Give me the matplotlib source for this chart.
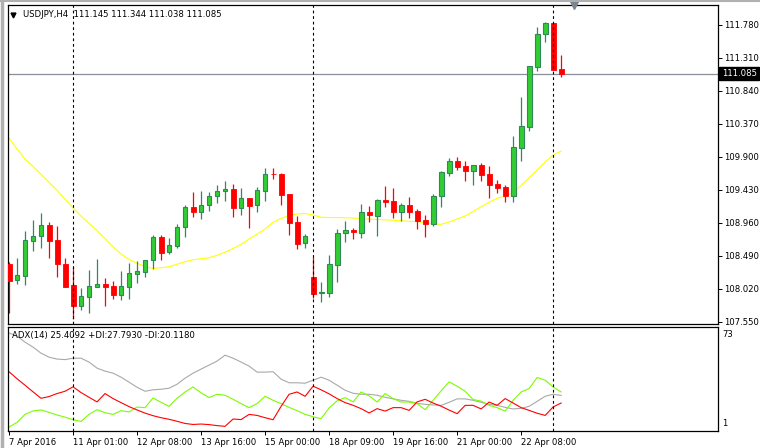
import matplotlib
matplotlib.use("Agg")
import matplotlib.pyplot as plt
from matplotlib.lines import Line2D
import numpy as np

# USDJPY H4 candles
opens = [108.372, 108.140, 108.205, 108.704, 108.775, 108.923, 108.714, 108.372, 108.073, 107.778,
         107.906, 108.049, 108.087, 108.063, 107.935, 108.049, 108.234, 108.254, 108.425, 108.756,
         108.538, 108.632, 108.895, 109.184, 109.117, 109.208, 109.336, 109.407, 109.436, 109.165,
         109.308, 109.208, 109.407, 109.658, 109.654, 109.369, 108.970, 108.667, 108.187, 107.955,
         107.963, 108.362, 108.809, 108.856, 108.818, 109.112, 109.060, 109.283, 109.269, 109.117,
         109.212, 109.127, 108.999, 108.946, 109.336, 109.672, 109.835, 109.768, 109.701, 109.778,
         109.654, 109.511, 109.469, 109.345, 110.028, 110.327, 111.182, 111.643, 111.804, 111.145]
highs = [108.400, 108.457, 108.842, 108.999, 109.098, 108.970, 108.913, 108.457, 108.329, 108.030,
         108.286, 108.443, 108.172, 108.130, 108.272, 108.382, 108.415, 108.429, 108.785, 108.785,
         108.742, 108.941, 109.212, 109.397, 109.416, 109.397, 109.497, 109.554, 109.511, 109.454,
         109.308, 109.469, 109.739, 109.739, 109.672, 109.369, 109.051, 108.799, 108.467, 108.111,
         108.500, 108.870, 108.984, 108.880, 109.226, 109.198, 109.298, 109.483, 109.454, 109.241,
         109.326, 109.155, 109.070, 109.369, 109.696, 109.877, 109.896, 109.839, 109.786, 109.806,
         109.768, 109.568, 109.497, 110.195, 110.750, 111.188, 111.747, 111.819, 111.804, 111.344]
lows = [107.670, 108.087, 108.073, 108.561, 108.604, 108.462, 108.191, 108.049, 107.588, 107.717,
        107.678, 108.049, 107.778, 107.873, 107.859, 107.873, 108.101, 108.191, 108.305, 108.433,
        108.510, 108.595, 108.752, 109.046, 109.017, 109.131, 109.245, 109.273, 109.046, 109.074,
        108.889, 109.108, 109.273, 109.578, 109.217, 108.785, 108.590, 108.604, 107.892, 107.835,
        107.906, 108.120, 108.689, 108.728, 108.746, 108.974, 108.771, 109.188, 109.027, 108.989,
        109.027, 108.875, 108.761, 108.917, 109.188, 109.629, 109.715, 109.558, 109.501, 109.558,
        109.316, 109.387, 109.259, 109.255, 109.843, 110.270, 111.125, 111.538, 111.139, 111.038]
closes = [108.134, 108.215, 108.714, 108.771, 108.923, 108.704, 108.376, 108.049, 107.778, 107.916,
          108.059, 108.087, 108.049, 107.935, 108.059, 108.239, 108.272, 108.429, 108.756, 108.533,
          108.638, 108.899, 109.179, 109.117, 109.212, 109.336, 109.407, 109.436, 109.174, 109.308,
          109.202, 109.422, 109.654, 109.649, 109.359, 108.960, 108.661, 108.771, 107.949, 107.969,
          108.368, 108.809, 108.852, 108.823, 109.108, 109.074, 109.283, 109.259, 109.117, 109.212,
          109.117, 108.989, 108.946, 109.340, 109.682, 109.835, 109.758, 109.701, 109.778, 109.639,
          109.501, 109.459, 109.345, 110.034, 110.333, 111.188, 111.648, 111.804, 111.139, 111.085]

# yellow moving average
ma = [110.166, 110.010, 109.867, 109.763, 109.649, 109.535, 109.422, 109.296, 109.169, 109.055,
      108.949, 108.848, 108.735, 108.618, 108.514, 108.436, 108.382, 108.336, 108.308, 108.319,
      108.332, 108.368, 108.405, 108.433, 108.446, 108.460, 108.496, 108.540, 108.593, 108.650,
      108.728, 108.795, 108.870, 108.966, 109.020, 109.063, 109.084, 109.091, 109.070, 109.037,
      109.034, 109.033, 109.031, 109.027, 109.019, 109.011, 109.006, 109.001, 108.996, 108.987,
      108.979, 108.976, 108.961, 108.941, 108.937, 108.970, 109.013, 109.055, 109.120, 109.187,
      109.251, 109.308, 109.336, 109.393, 109.493, 109.602, 109.711, 109.825, 109.924, 109.981]

# ADX(14) panel
adx = [68.8, 66.7, 62.5, 59.0, 54.8, 52.0, 50.7, 50.3, 51.3, 51.3,
       48.6, 44.4, 42.3, 40.9, 38.1, 34.6, 31.1, 28.3, 29.3, 29.7,
       30.4, 33.2, 37.4, 40.9, 43.7, 46.5, 49.3, 53.4, 51.3, 48.6,
       45.8, 41.6, 41.6, 41.9, 36.7, 34.2, 34.2, 33.9, 36.0, 38.1,
       36.0, 32.5, 29.0, 26.9, 26.2, 26.2, 25.5, 24.1, 23.0, 22.0,
       21.3, 19.9, 19.2, 18.8, 18.5, 20.6, 23.0, 23.0, 22.0, 20.6,
       19.2, 18.5, 17.1, 16.0, 16.4, 17.8, 21.3, 24.8, 26.2, 25.41]
plus_di = [3.4, 6.6, 12.2, 14.6, 15.3, 13.6, 11.8, 10.3, 8.5, 7.3,
           12.2, 15.5, 13.4, 12.2, 14.8, 13.9, 17.3, 16.9, 23.6, 20.6,
           17.8, 23.4, 27.8, 31.3, 27.2, 23.9, 26.2, 25.5, 22.7, 19.7,
           16.9, 19.7, 24.8, 22.0, 19.7, 17.1, 14.8, 12.2, 10.6, 9.2,
           16.7, 21.6, 23.9, 20.9, 27.8, 25.1, 20.8, 26.7, 23.2, 20.8,
           20.8, 19.7, 15.5, 22.0, 28.6, 34.8, 31.8, 28.3, 22.5, 21.5,
           18.5, 16.9, 14.5, 22.0, 27.8, 30.2, 37.9, 36.0, 31.3, 27.79]
minus_di = [41.9, 37.0, 32.5, 27.9, 23.4, 24.6, 26.7, 28.3, 31.4, 27.4,
            24.1, 20.9, 26.7, 23.2, 20.4, 17.6, 15.3, 13.1, 11.3, 9.9,
            8.8, 7.4, 5.9, 5.2, 5.5, 5.1, 4.4, 3.9, 9.0, 8.6,
            12.2, 11.5, 9.9, 8.5, 17.8, 26.2, 27.8, 24.8, 31.8, 29.3,
            26.5, 23.2, 20.4, 18.5, 16.2, 13.2, 16.2, 14.5, 16.9, 16.9,
            15.0, 20.9, 22.7, 20.1, 17.9, 15.2, 12.7, 18.5, 18.5, 16.0,
            20.8, 18.5, 23.2, 20.1, 16.9, 15.0, 13.0, 11.5, 17.4, 20.12]

price_ticks = [111.780, 111.310, 110.840, 110.370, 109.900, 109.430, 108.960, 108.490, 108.020, 107.550]
time_labels = ["7 Apr 2016", "11 Apr 01:00", "12 Apr 08:00", "13 Apr 16:00", "15 Apr 00:00",
               "18 Apr 09:00", "19 Apr 16:00", "21 Apr 00:00", "22 Apr 08:00"]
time_label_idx = [0, 8, 16, 24, 32, 40, 48, 56, 64]
separators = [8, 38, 68]

plt.rcParams['font.family'] = ['DejaVu Sans']
FS = 6.1

W, H = 760, 448
fig = plt.figure(figsize=(W / 100, H / 100), dpi=100)
fig.patch.set_facecolor("white")

def px_rect(x0, y0, x1, y1):
    return [x0 / W, 1 - y1 / H, (x1 - x0) / W, (y1 - y0) / H]

ax = fig.add_axes(px_rect(7.5, 5, 718, 324))
ax2 = fig.add_axes(px_rect(7.5, 327, 718, 430.5))

x = np.arange(len(opens))
xlim = (-0.19, 88.6)

# ---- candles ----
bull_fill, bull_edge, bear = "#32CD32", "#2E8B57", "#FF0000"
o = np.array(opens); c = np.array(closes); h = np.array(highs); l = np.array(lows)
up = c >= o
ax.vlines(x[up], l[up], h[up], color=bull_edge, lw=0.9, zorder=2)
ax.vlines(x[~up], l[~up], h[~up], color=bear, lw=0.9, zorder=2)
body = np.maximum(np.abs(c - o), 0.004)
bottom = np.minimum(o, c)
ax.bar(x[up], body[up], bottom=bottom[up], width=0.6, color=bull_fill,
       edgecolor=bull_edge, linewidth=0.8, zorder=3)
ax.bar(x[~up], body[~up], bottom=bottom[~up], width=0.62, color=bear,
       edgecolor=bear, linewidth=0.6, zorder=3)

ax.plot(x, ma, color="#FFFF00", lw=0.8, zorder=1)

last = closes[-1]
ax.axhline(last, color="#8A8F99", lw=0.9, zorder=0.5)

ax.set_xlim(*xlim)
ax.set_ylim(107.517, 112.061)
ax.set_xticks([])
ax.yaxis.tick_right()
ax.set_yticks(price_ticks)
ax.set_yticklabels([f"{v:.3f}" for v in price_ticks], fontsize=FS)
ax.tick_params(axis="y", direction="out", length=3, width=0.7, pad=1.5, colors="black")

ax.annotate(f"{last:.3f}", xy=(1, last), xycoords=("axes fraction", "data"),
            xytext=(2.6, 0), textcoords="offset points", ha="left", va="center",
            fontsize=FS, color="white",
            bbox=dict(boxstyle="square,pad=0.25", fc="black", ec="black"))

ax.annotate(f"USDJPY,H4  {opens[-1]:.3f} {highs[-1]:.3f} {lows[-1]:.3f} {closes[-1]:.3f}",
            xy=(0, 1), xycoords="axes fraction", xytext=(11.3, -6.6),
            textcoords="offset points", ha="left", va="center", fontsize=FS, color="black")
ax.plot([0.0083], [0.97], marker="v", color="black", markersize=3.5,
        transform=ax.transAxes, clip_on=False)
ax.plot([0.797], [1.0], marker="v", color="#7A8590", markersize=6,
        transform=ax.transAxes, clip_on=False, zorder=5)

# ---- ADX panel ----
ax2.plot(x, adx, color="#A9A9A9", lw=0.8)
ax2.plot(x, plus_di, color="#7CFC00", lw=0.8)
ax2.plot(x, minus_di, color="#FF0000", lw=0.8)
ax2.set_xlim(*xlim)
ax2.set_ylim(1, 73)
ax2.set_yticks([])
ax2.set_xticks(time_label_idx)
ax2.set_xticklabels(time_labels, fontsize=FS, ha="left")
ax2.tick_params(axis="x", direction="out", length=3, width=0.7, pad=2.5, colors="black")
ax2.annotate("ADX(14) 25.4092 +DI:27.7930 -DI:20.1180", xy=(0, 1), xycoords="axes fraction",
             xytext=(3.3, -5.9), textcoords="offset points", ha="left", va="center",
             fontsize=FS, color="black")
for lab, yoff in (("73", -5.2), ("1", 5.3)):
    ax2.annotate(lab, xy=(1, 1 if lab == "73" else 0), xycoords="axes fraction",
                 xytext=(3.3, yoff), textcoords="offset points", ha="left", va="center",
                 fontsize=FS, color="black")

for a in (ax, ax2):
    for s in a.spines.values():
        s.set_color("black")
        s.set_linewidth(0.9)
    for sep in separators:
        a.axvline(sep, color="black", lw=0.8, linestyle=(0, (2.5, 2.5)), zorder=4)

# window frame
fig.add_artist(Line2D([1.5 / W, 1.5 / W], [0, 1], color="#B0B0B0", lw=2.5))
fig.add_artist(Line2D([0, 1], [1 - 1.2 / H, 1 - 1.2 / H], color="#B0B0B0", lw=1.5))

fig.savefig("out.png", dpi=100, facecolor="white")
